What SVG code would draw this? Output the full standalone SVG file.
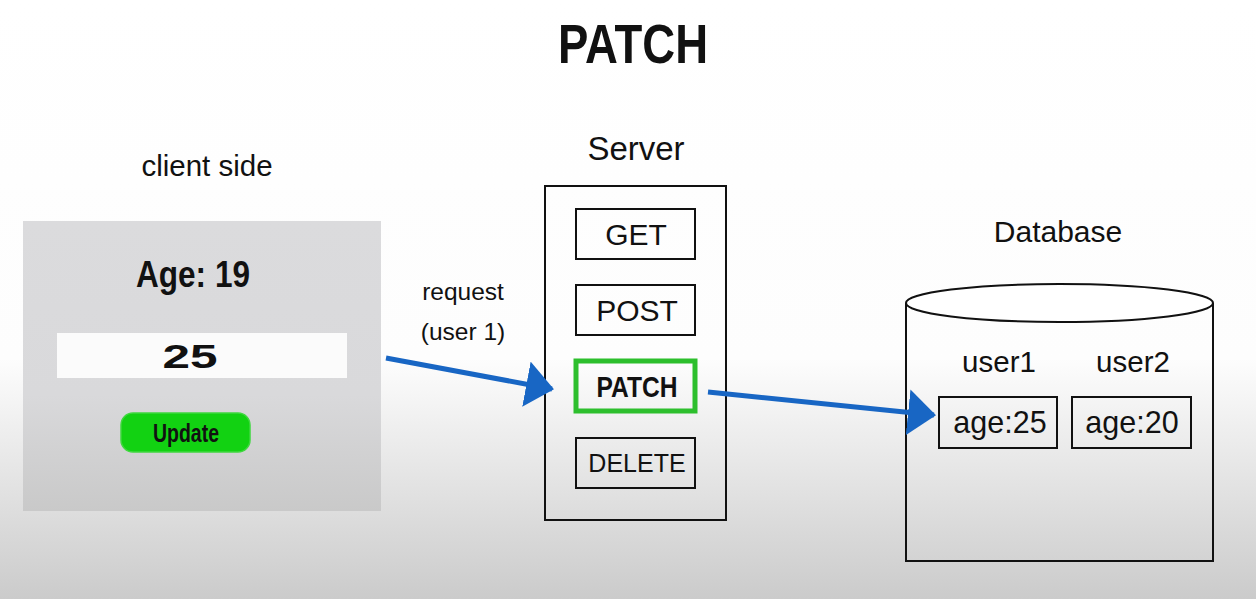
<svg xmlns="http://www.w3.org/2000/svg" width="1256" height="599" viewBox="0 0 1256 599">
<defs>
<linearGradient id="bg" x1="0" y1="0" x2="0" y2="1">
<stop offset="0" stop-color="#ffffff"/>
<stop offset="0.6" stop-color="#fdfdfd"/>
<stop offset="1" stop-color="#cbcbcb"/>
</linearGradient>
<linearGradient id="panel" x1="0" y1="0" x2="0" y2="1">
<stop offset="0" stop-color="#dbdbdd"/>
<stop offset="0.6" stop-color="#d9d9db"/>
<stop offset="1" stop-color="#c9c9c9"/>
</linearGradient>
<marker id="ah" markerUnits="userSpaceOnUse" markerWidth="30" markerHeight="46" refX="26" refY="23" orient="auto">
<path d="M0,0 L28,23 L0,46 Z" fill="#1866c4"/>
</marker>
</defs>
<style>
text{font-family:"Liberation Sans",Arial,sans-serif;fill:#111;text-anchor:middle}
.box{fill:none;stroke:#111;stroke-width:2}
.lbl{font-size:30px}
.con{stroke:#1866c4;stroke-width:5;fill:none}
</style>
<rect x="0" y="0" width="1256" height="599" fill="url(#bg)"/>
<text x="633" y="63" font-size="56" font-weight="bold" textLength="150" lengthAdjust="spacingAndGlyphs">PATCH</text>

<g id="client">
<text x="207" y="176" font-size="29.5">client side</text>
<rect x="23" y="221" width="358" height="290" fill="url(#panel)"/>
<text x="193" y="287" font-size="37" font-weight="bold" textLength="114" lengthAdjust="spacingAndGlyphs">Age: 19</text>
<rect x="57" y="333" width="290" height="45" fill="#fbfbfb"/>
<text x="190" y="368" font-size="34" font-weight="bold" font-family="DejaVu Sans, sans-serif" textLength="55" lengthAdjust="spacingAndGlyphs">25</text>
<rect x="121" y="413" width="129" height="39" rx="12" fill="#12d212" stroke="#3fd83f" stroke-width="1.5"/>
<text x="186" y="442" font-size="25" font-weight="bold" textLength="66" lengthAdjust="spacingAndGlyphs">Update</text>
</g>

<g id="request-label">
<text x="463" y="300" font-size="24.5">request</text>
<text x="463" y="340" font-size="24.5">(user 1)</text>
</g>

<g id="server">
<text x="636" y="160" font-size="33">Server</text>
<rect class="box" x="545" y="186" width="181" height="334"/>
<g id="get"><rect class="box" x="576" y="209" width="119" height="50"/><text class="lbl" x="636" y="245">GET</text></g>
<g id="post"><rect class="box" x="576" y="285" width="119" height="50"/><text class="lbl" x="637" y="321">POST</text></g>
<g id="patch"><rect x="576" y="361" width="119" height="50" fill="none" stroke="#2dbf2d" stroke-width="5"/><text x="637" y="397" font-size="30" font-weight="bold" textLength="81" lengthAdjust="spacingAndGlyphs">PATCH</text></g>
<g id="delete"><rect class="box" x="576" y="438" width="119" height="50"/><text x="637" y="472" font-size="25">DELETE</text></g>
</g>

<g id="database">
<text x="1058" y="242" font-size="30">Database</text>
<path d="M906,303 L906,561 L1213,561 L1213,303" fill="none" stroke="#111" stroke-width="2"/>
<ellipse cx="1059.5" cy="303" rx="153.5" ry="19" fill="#fff" stroke="#111" stroke-width="2"/>
<text x="999" y="372" font-size="29.5">user1</text>
<text x="1133" y="372" font-size="29.5">user2</text>
<g id="user1"><rect class="box" x="939" y="397" width="118" height="51"/><text x="1000" y="433" font-size="30.5">age:25</text></g>
<g id="user2"><rect class="box" x="1072" y="397" width="119" height="51"/><text x="1132" y="433" font-size="30.5">age:20</text></g>
</g>

<g id="connectors">
<line class="con" x1="386" y1="358" x2="552" y2="389" marker-end="url(#ah)"/>
<line class="con" x1="708" y1="392" x2="934" y2="415" marker-end="url(#ah)"/>
</g>
</svg>
